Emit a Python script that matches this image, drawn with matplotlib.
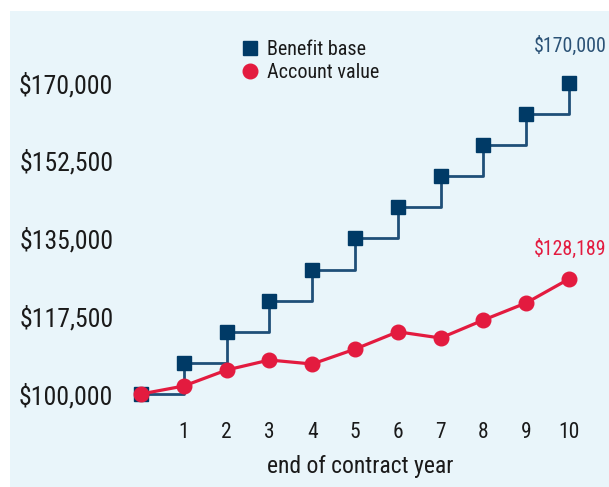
import matplotlib
matplotlib.use("Agg")
import matplotlib.pyplot as plt
from matplotlib.lines import Line2D
from matplotlib.patches import Rectangle

plt.rcParams['font.family'] = ['Nimbus Sans Narrow', 'Liberation Sans Narrow', 'Roboto Condensed',
                               'Archivo Narrow', 'DejaVu Sans']

years = [0, 1, 2, 3, 4, 5, 6, 7, 8, 9, 10]
benefit_base = [100000, 107000, 114000, 121000, 128000, 135000, 142000, 149000, 156000, 163000, 170000]
account_value = [100000, 101800, 105400, 107650, 106750, 110100, 114000, 112600, 116650, 120500, 125900]
ytick_values = [100000, 117500, 135000, 152500, 170000]
ytick_labels = ["$100,000", "$117,500", "$135,000", "$152,500", "$170,000"]
xtick_values = [1, 2, 3, 4, 5, 6, 7, 8, 9, 10]
benefit_label = "$170,000"
account_label = "$128,189"

NAVY = "#003a66"
NAVY_LINE = "#1f4f78"
RED = "#e31b3f"
BG = "#e9f5fa"
TXT = "#1a1a1a"

W, H = 609, 487
fig = plt.figure(figsize=(W / 100, H / 100), dpi=100)
fig.patch.set_facecolor("white")
fig.patches.append(Rectangle((10 / W, 0), 1 - 10 / W, 1 - 11 / H, transform=fig.transFigure,
                             facecolor=BG, edgecolor="none", zorder=-5))

ax = fig.add_axes([130 / W, 1 - 410 / H, 470 / W, 370 / H])
ax.set_zorder(2)
ax.patch.set_visible(False)
for s in ax.spines.values():
    s.set_visible(False)

ax.plot(years, benefit_base, drawstyle="steps-post", color=NAVY_LINE, lw=2, zorder=2)
ax.plot(years, benefit_base, ls="none", marker="s", ms=9.5, color=NAVY, zorder=3)
ax.plot(years, account_value, color=RED, lw=2.3, marker="o", ms=10.5, zorder=4)

ax.set_xlim(-0.257, 10.724)
ax.set_ylim(96399, 179676)
ax.set_xticks(xtick_values)
ax.set_xticklabels([str(v) for v in xtick_values])
ax.set_yticks(ytick_values)
ax.set_yticklabels(ytick_labels)
ax.tick_params(axis="both", length=0, colors=TXT)
ax.tick_params(axis="y", labelsize=18.5, pad=12)
ax.tick_params(axis="x", labelsize=15.5, pad=9)
ax.set_xlabel("end of contract year", fontsize=17, color=TXT)
ax.xaxis.set_label_coords((360 - 130) / 470, -(467 - 410) / 370)
ax.xaxis.label.set_va("center")

ax.annotate(benefit_label, (years[-1], benefit_base[-1]), xytext=(1, 27), textcoords="offset points",
            ha="center", va="center", fontsize=14.3, color="#2b5276", annotation_clip=False)
ax.annotate(account_label, (years[-1], account_value[-1]), xytext=(1, 22), textcoords="offset points",
            ha="center", va="center", fontsize=14.3, color=RED, annotation_clip=False)

handles = [Line2D([], [], ls="none", marker="s", ms=9.5, color=NAVY),
           Line2D([], [], ls="none", marker="o", ms=10.5, color=RED)]
leg = fig.legend(handles, ["Benefit base", "Account value"], loc="upper left",
                 bbox_to_anchor=(230 / W, 1 - 30 / H), frameon=False, fontsize=14.5,
                 handletextpad=0.35, labelspacing=0.2, handlelength=1.0, borderpad=0)
leg.set_zorder(3)
for t in leg.get_texts():
    t.set_color(TXT)

fig.savefig("out.png", dpi=100)
